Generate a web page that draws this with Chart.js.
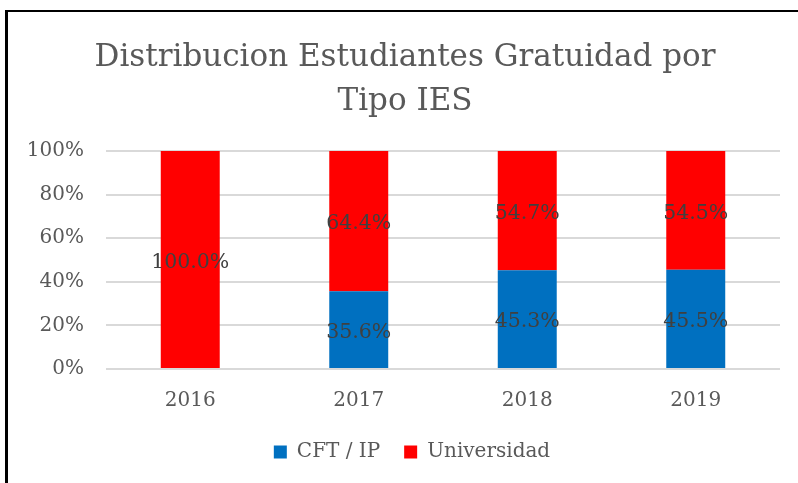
<!DOCTYPE html>
<html>
<head>
<meta charset="utf-8">
<title>Distribucion Estudiantes Gratuidad</title>
<script src="https://cdn.jsdelivr.net/npm/chart.js"></script>
<style>
  html, body { margin: 0; padding: 0; background: #fff; }
  .wrap { position: relative; width: 798px; height: 483px; }
  .frame { position: absolute; left: 5px; top: 10px; right: 0; bottom: 0;
           border-left: 3px solid #000; border-top: 2px solid #000; pointer-events: none; }
</style>
</head>
<body>
<div class="wrap">
  <canvas id="chart" width="798" height="483"></canvas>
  <div class="frame"></div>
</div>
<script>
// datos
const years = ['2016', '2017', '2018', '2019'];
const cftIp = [0, 35.6, 45.3, 45.5];
const universidad = [100, 64.4, 54.7, 54.5];
const yTicks = [0, 20, 40, 60, 80, 100];

const serif = 'DejaVu Serif';

// etiquetas de datos al centro de cada segmento
const segmentLabels = {
  id: 'segmentLabels',
  afterDatasetsDraw(chart) {
    const ctx = chart.ctx;
    ctx.save();
    ctx.font = '20.5px "' + serif + '"';
    ctx.fillStyle = '#404040';
    ctx.textAlign = 'center';
    ctx.textBaseline = 'middle';
    chart.data.datasets.forEach((ds, i) => {
      chart.getDatasetMeta(i).data.forEach((bar, j) => {
        const v = ds.data[j];
        if (!v) return;
        const p = bar.getProps(['x', 'y', 'base'], true);
        ctx.fillText(v.toFixed(1) + '%', p.x, (p.y + p.base) / 2 + 3);
      });
    });
    ctx.restore();
  }
};

// titulo y leyenda un poco corridos a la derecha, como en Excel
const nudgeBoxes = {
  id: 'nudgeBoxes',
  afterLayout(chart) {
    const shift = (box, dx) => { if (box) { box.left += dx; box.right += dx; } };
    shift(chart.titleBlock, 6);
    shift(chart.legend, 13);
  }
};

new Chart(document.getElementById('chart'), {
  type: 'bar',
  data: {
    labels: years,
    datasets: [
      { label: 'CFT / IP', data: cftIp, backgroundColor: '#0070C0' },
      { label: 'Universidad', data: universidad, backgroundColor: '#FF0000' }
    ]
  },
  options: {
    responsive: false,
    animation: false,
    datasets: { bar: { categoryPercentage: 1, barPercentage: 0.35 } },
    layout: { padding: { left: 18, right: 18, top: 35, bottom: 11 } },
    scales: {
      x: {
        stacked: true,
        grid: { display: false },
        border: { display: false },
        afterFit(s) { s.height = 49; },
        ticks: { color: '#595959', font: { family: serif, size: 20 }, padding: 12 }
      },
      y: {
        stacked: true,
        min: 0, max: 100,
        afterBuildTicks(s) { s.ticks = yTicks.map(v => ({ value: v })); },
        afterFit(s) { s.width = 88; },
        grid: { color: '#D9D9D9', lineWidth: 2, drawTicks: false },
        border: { display: false },
        ticks: { color: '#595959', font: { family: serif, size: 20 }, padding: 22,
                 callback: v => v + '%' }
      }
    },
    plugins: {
      title: {
        display: true,
        text: ['Distribucion Estudiantes Gratuidad por', 'Tipo IES'],
        color: '#595959',
        font: { family: serif, size: 31, weight: 'normal', lineHeight: 1.45 },
        padding: { top: 0, bottom: 26 }
      },
      legend: {
        position: 'bottom',
        labels: { color: '#595959', font: { family: serif, size: 20 },
                  boxWidth: 13, boxHeight: 13, padding: 24 }
      },
      tooltip: { enabled: false }
    }
  },
  plugins: [segmentLabels, nudgeBoxes]
});
</script>
</body>
</html>
